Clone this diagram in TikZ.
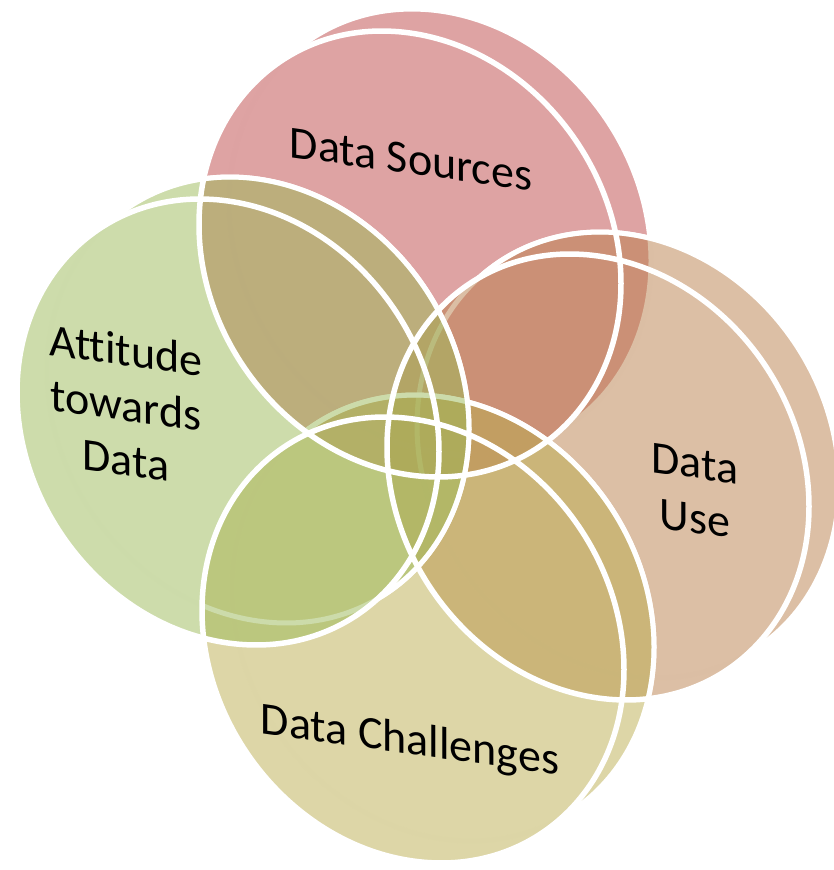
\documentclass[tikz,border=0pt]{standalone}
\usepackage{fontspec}
\setmainfont[Ligatures=NoCommon]{Carlito}

% base colours of the four sets, laid down at half opacity
\definecolor{srcC}{RGB}{189,71,71}
\definecolor{useC}{RGB}{185,127,75}
\definecolor{chlC}{RGB}{187,173,79}
\definecolor{attC}{RGB}{155,185,87}

\tikzset{
  rim/.style={draw=white, line width=5.5pt},
  backrim/.style={draw=white, line width=5pt},
  setname/.style={font=\fontsize{46}{55}\selectfont, align=center,
                  text=black, yslant=-0.14, inner sep=0pt},
  disc/.style={shift={#1}, yslant=-0.14}
}

% one set: back outline under the body, translucent body (front and back
% discs as one region), then the visible part of the back outline on top
\newcommand\vennbody[2]{%
  \begin{scope}[disc={#1}]
    \draw[backrim] (30,26.2) ellipse[x radius=211, y radius=221];
    \fill[#2, fill opacity=0.5]
      (0,0) ellipse[x radius=211, y radius=221]
      (30,26.2) ellipse[x radius=211, y radius=221];
    \draw[backrim] ({30+211*cos(-55.5)},{26.2+221*sin(-55.5)})
      arc[start angle=-55.5, end angle=135.1, x radius=211, y radius=221];
  \end{scope}}

% front rim of a set
\newcommand\vennrim[1]{%
  \draw[rim, disc={#1}] (0,0) ellipse[x radius=211, y radius=221];}

\begin{document}
\begin{tikzpicture}[x=1pt, y=1pt]
  \useasboundingbox (0,0) rectangle (833,-870);

  \coordinate (cSrc) at (410,-254);
  \coordinate (cUse) at (598,-477);
  \coordinate (cChl) at (413,-640);
  \coordinate (cAtt) at (228,-422);

  % bodies in stacking order
  \vennbody{(cSrc)}{srcC}
  \vennbody{(cUse)}{useC}
  \vennbody{(cChl)}{chlC}
  \vennbody{(cAtt)}{attC}

  % white front rims over everything
  \vennrim{(cSrc)}
  \vennrim{(cUse)}
  \vennrim{(cChl)}
  \vennrim{(cAtt)}

  % set names
  \node[setname, anchor=base] (src) at (411,-174) {Data Sources};
  \node[setname, anchor=base] (chl) at (410,-754) {Data Challenges};
  \node[setname] (use) at (695,-491) {Data\\Use};
  \node[setname] (att) at (126,-405) {Attitude\\towards\\Data};
\end{tikzpicture}
\end{document}
